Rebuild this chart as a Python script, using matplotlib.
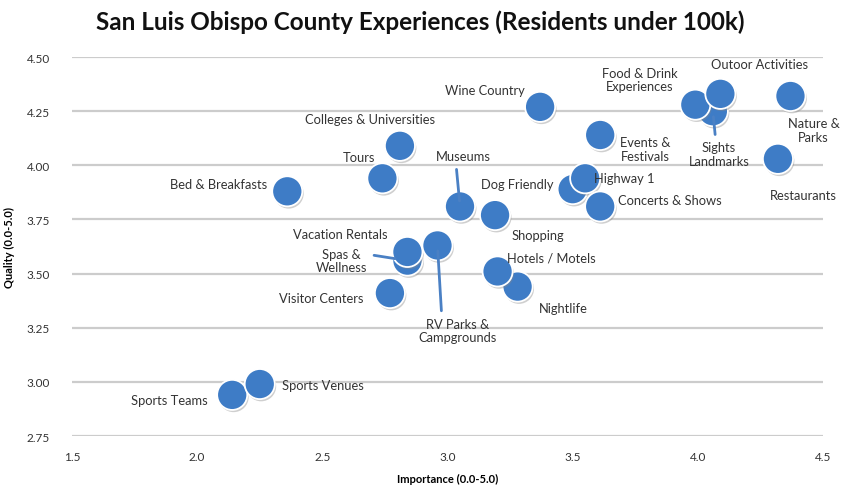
import matplotlib
matplotlib.use("Agg")
import matplotlib.pyplot as plt
import matplotlib.patheffects as pe

# importance vs quality ratings for each experience
experiences = ["Sights\nLandmarks", "Food & Drink\nExperiences", "Outoor Activities",
               "Nature &\nParks", "Restaurants", "Wine Country", "Events &\nFestivals",
               "Dog Friendly", "Highway 1", "Concerts & Shows", "Shopping", "Museums",
               "Colleges & Universities", "Tours", "Bed & Breakfasts", "Spas &\nWellness",
               "Vacation Rentals", "RV Parks &\nCampgrounds", "Visitor Centers",
               "Nightlife", "Hotels / Motels", "Sports Teams", "Sports Venues"]
importance = [4.06, 3.99, 4.09, 4.37, 4.32, 3.37, 3.61, 3.50, 3.55, 3.61, 3.19, 3.05,
              2.81, 2.74, 2.36, 2.84, 2.84, 2.96, 2.77, 3.28, 3.20, 2.14, 2.25]
quality = [4.25, 4.28, 4.33, 4.32, 4.03, 4.27, 4.14, 3.89, 3.94, 3.81, 3.77, 3.81,
           4.09, 3.94, 3.88, 3.56, 3.60, 3.63, 3.41, 3.44, 3.51, 2.94, 2.99]

# label placement: (dx, dy) in pixels from bubble, horizontal alignment, leader line
label_pos = {
    "Sights\nLandmarks": (6, -43, "center", (0.45, 1)),
    "Food & Drink\nExperiences": (-56, 25, "center", None),
    "Outoor Activities": (39, 30, "center", None),
    "Nature &\nParks": (23, -34, "center", None),
    "Restaurants": (25, -36, "center", None),
    "Wine Country": (-55, 17, "center", None),
    "Events &\nFestivals": (45, -14, "center", None),
    "Dog Friendly": (-55, 5, "center", None),
    "Highway 1": (39, 0, "center", None),
    "Concerts & Shows": (70, 6, "center", None),
    "Shopping": (43, -20, "center", None),
    "Museums": (3, 50, "center", (0.37, 0)),
    "Colleges & Universities": (-30, 27, "center", None),
    "Tours": (-23, 21, "center", None),
    "Bed & Breakfasts": (-20, 7, "right", None),
    "Spas &\nWellness": (-66, 0, "center", (1, 0.75)),
    "Vacation Rentals": (-67, 18, "center", None),
    "RV Parks &\nCampgrounds": (20, -85, "center", (0.3, 1)),
    "Visitor Centers": (-69, -5, "center", None),
    "Nightlife": (46, -21, "center", None),
    "Hotels / Motels": (54, 14, "center", None),
    "Sports Teams": (-24, -5, "right", None),
    "Sports Venues": (63, -1, "center", None),
}

plt.rcParams['font.family'] = ['Lato', 'DejaVu Sans']

fig = plt.figure(figsize=(8.41, 4.89), dpi=100)
ax = fig.add_axes([0.0856, 0.1063, 0.893, 0.775])

blue = '#3e7cc6'
line_blue = '#4a80c4'

for name, x, y in zip(experiences, importance, quality):
    ax.scatter([x], [y], s=470, color=blue, edgecolors='white', linewidths=1.3, zorder=3,
               path_effects=[pe.SimplePatchShadow(offset=(1.0, -1.6), shadow_rgbFace='#888888', alpha=0.4),
                             pe.Normal()])

for name, x, y in zip(experiences, importance, quality):
    dx, dy, ha, rel = label_pos[name]
    kw = {}
    if rel is not None:
        kw['arrowprops'] = dict(arrowstyle='-', color=line_blue, lw=2, shrinkA=3,
                                shrinkB=4 if name != "Spas &\nWellness" else 9,
                                relpos=rel)
    ax.annotate(name, (x, y), xytext=(dx, dy), textcoords='offset pixels',
                ha=ha, va='center', fontsize=9.3, color='#333333',
                multialignment='center', linespacing=1.15, zorder=5, **kw)

ax.set_xlim(1.5, 4.5)
ax.set_ylim(2.75, 4.5)
ax.set_xticks([1.5, 2.0, 2.5, 3.0, 3.5, 4.0, 4.5])
ax.set_yticks([2.75, 3.0, 3.25, 3.5, 3.75, 4.0, 4.25, 4.5])
ax.set_yticklabels(['%.2f' % v for v in ax.get_yticks()])
ax.tick_params(length=0, labelsize=8.5, labelcolor='#333333')
ax.tick_params(axis='y', pad=16)
ax.tick_params(axis='x', pad=11)
ax.yaxis.grid(True, color='#cccccc', lw=1.6, zorder=0)
ax.set_axisbelow(True)
for s in ax.spines.values():
    s.set_visible(False)

ax.set_xlabel('Importance (0.0-5.0)', fontsize=8, fontweight='bold', labelpad=8)
ax.set_ylabel('Quality (0.0-5.0)', fontsize=8, fontweight='bold', labelpad=8)
fig.text(0.5, 0.955, 'San Luis Obispo County Experiences (Residents under 100k)',
         ha='center', va='center', fontsize=17.5, fontweight='bold', color='#111111')

fig.savefig('out.png', dpi=100)
